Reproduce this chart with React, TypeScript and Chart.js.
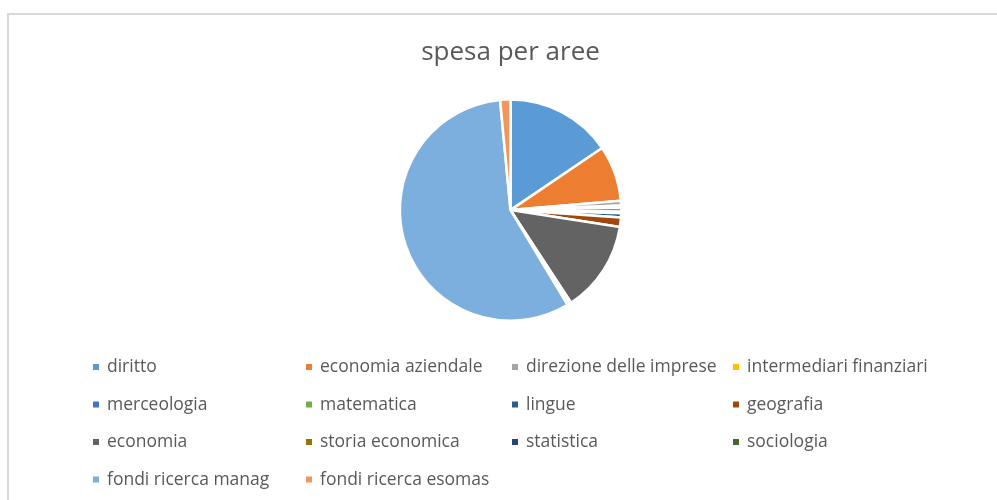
import React, { useEffect, useRef } from "react";
import { Chart, registerables } from "chart.js";

Chart.register(...registerables);

const TITLE = "spesa per aree";

const categories: string[] = [
  "diritto",
  "economia aziendale",
  "direzione delle imprese",
  "intermediari finanziari",
  "merceologia",
  "matematica",
  "lingue",
  "geografia",
  "economia",
  "storia economica",
  "statistica",
  "sociologia",
  "fondi ricerca manag",
  "fondi ricerca esomas",
];

const spesa: number[] = [
  15.5, 8.1, 0.7, 0.3, 0.6, 0.2, 0.6, 1.4, 13.3, 0.1, 0.1, 0.4, 57.0, 1.5,
];

const colors: string[] = [
  "#5B9BD5",
  "#ED7D31",
  "#A5A5A5",
  "#FFC000",
  "#4472C4",
  "#70AD47",
  "#255E91",
  "#9E480E",
  "#636363",
  "#997300",
  "#264478",
  "#43682B",
  "#7CAFDD",
  "#F1975A",
];

const LEGEND_COL_X = [93, 306, 512, 733];
const LEGEND_ROW_Y = [367, 404.5, 442, 479.5];
const LEGEND_FONT = '17.5px "Open Sans", sans-serif';
const TEXT_COLOR = "#595959";

const gridLegend = {
  id: "gridLegend",
  afterDraw(chart: any) {
    const ctx = chart.ctx as CanvasRenderingContext2D;
    const labels = chart.data.labels as string[];
    const bg = chart.data.datasets[0].backgroundColor as string[];
    ctx.save();
    ctx.font = LEGEND_FONT;
    ctx.textBaseline = "middle";
    ctx.textAlign = "left";
    labels.forEach((lab, i) => {
      const col = i % 4;
      const row = Math.floor(i / 4);
      const x = LEGEND_COL_X[col];
      const y = LEGEND_ROW_Y[row];
      ctx.fillStyle = bg[i];
      ctx.fillRect(x, y - 3, 6, 6);
      ctx.fillStyle = TEXT_COLOR;
      ctx.fillText(lab, x + 14, y + 0.5);
    });
    ctx.restore();
  },
};

export default function App() {
  const ref = useRef<HTMLCanvasElement | null>(null);

  useEffect(() => {
    if (!ref.current) return;
    const chart = new Chart(ref.current, {
      type: "pie",
      data: {
        labels: categories,
        datasets: [
          {
            data: spesa,
            backgroundColor: colors,
            borderColor: "#ffffff",
            borderWidth: 2.5,
          },
        ],
      },
      options: {
        responsive: false,
        maintainAspectRatio: false,
        animation: false,
        layout: { padding: { top: 0, bottom: 178, left: 24, right: 0 } },
        plugins: {
          legend: { display: false },
          tooltip: { enabled: false },
          title: {
            display: true,
            text: TITLE,
            color: TEXT_COLOR,
            font: { family: '"Open Sans", sans-serif', size: 26, weight: "normal" },
            padding: { top: 37, bottom: 30 },
          },
        },
      },
      plugins: [gridLegend],
    });
    return () => chart.destroy();
  }, []);

  return (
    <div
      style={{
        position: "fixed",
        left: 0,
        top: 0,
        width: 997,
        height: 500,
        background: "#ffffff",
        overflow: "hidden",
      }}
    >
      <div
        style={{
          position: "absolute",
          left: 7,
          top: 13,
          width: 1100,
          height: 600,
          border: "2px solid #d9d9d9",
          boxSizing: "border-box",
        }}
      />
      <canvas
        ref={ref}
        width={997}
        height={500}
        style={{ position: "absolute", left: 0, top: 0 }}
      />
    </div>
  );
}
